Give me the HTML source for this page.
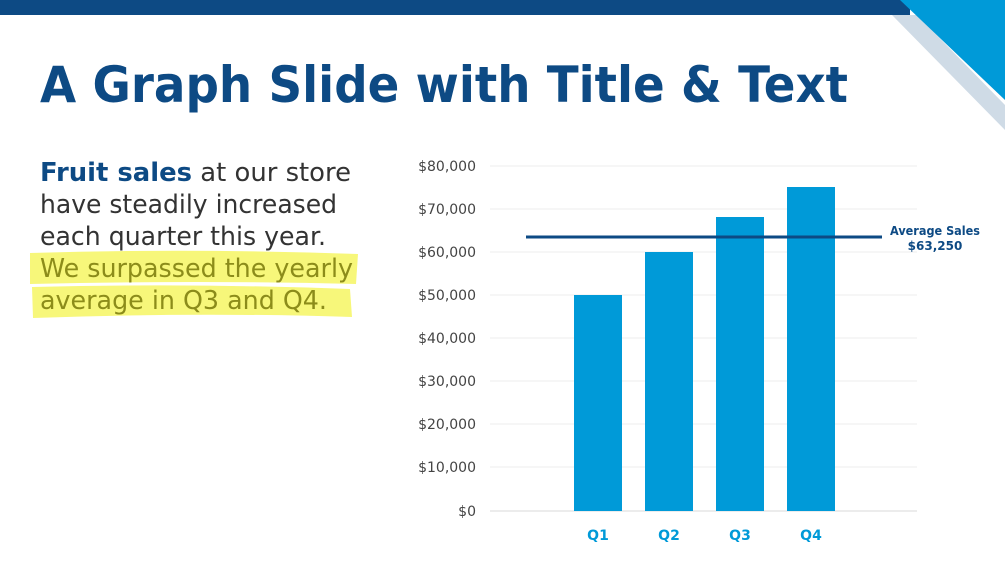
<!DOCTYPE html>
<html><head><meta charset="utf-8"><style>
html,body{margin:0;padding:0;background:#fff;width:1005px;height:565px;overflow:hidden}
svg{display:block}
</style></head><body>
<svg width="1005" height="565" viewBox="0 0 1005 565" xmlns="http://www.w3.org/2000/svg">
<rect x="0" y="0" width="1005" height="565" fill="#fff"/>
<rect x="0" y="0" width="910" height="15" fill="#0d4a84"/>
<polygon points="892,15 917,15 1005,105 1005,130" fill="#cfdbe6"/>
<polygon points="900,0 1005,0 1005,100" fill="#009ad8"/>
<text x="40" y="102" font-family="'DejaVu Sans',sans-serif" font-weight="bold" font-size="50" fill="#0d4a84" textLength="808" lengthAdjust="spacingAndGlyphs">A Graph Slide with Title &amp; Text</text>
<path d="M30,253 Q190,248 358,254 L356,284 Q200,280 30,284 Z" fill="#f7f77a"/>
<path d="M32,287 Q190,283 350,289 L352,317 Q200,312 33,318 Z" fill="#f7f77a"/>
<g font-family="'DejaVu Sans',sans-serif" font-size="26">
<text x="40" y="181" textLength="311" lengthAdjust="spacingAndGlyphs"><tspan fill="#0d4a84" font-weight="bold">Fruit sales</tspan><tspan fill="#333"> at our store</tspan></text>
<text x="40" y="213" fill="#333" textLength="297" lengthAdjust="spacingAndGlyphs">have steadily increased</text>
<text x="40" y="245" fill="#333" textLength="286" lengthAdjust="spacingAndGlyphs">each quarter this year.</text>
<text x="40" y="277" fill="#8c8c1a" textLength="313" lengthAdjust="spacingAndGlyphs">We surpassed the yearly</text>
<text x="40" y="309" fill="#8c8c1a" textLength="287" lengthAdjust="spacingAndGlyphs">average in Q3 and Q4.</text>
</g>
<g stroke="#eeeeee" stroke-width="1">
<line x1="490" y1="166" x2="917" y2="166"/>
<line x1="490" y1="209" x2="917" y2="209"/>
<line x1="490" y1="252" x2="917" y2="252"/>
<line x1="490" y1="295" x2="917" y2="295"/>
<line x1="490" y1="338" x2="917" y2="338"/>
<line x1="490" y1="381" x2="917" y2="381"/>
<line x1="490" y1="424" x2="917" y2="424"/>
<line x1="490" y1="467" x2="917" y2="467"/>
</g>
<line x1="490" y1="511" x2="917" y2="511" stroke="#d9d9d9" stroke-width="1"/>
<g font-family="'DejaVu Sans',sans-serif" font-size="14" fill="#444" text-anchor="end">
<text x="476" y="171">$80,000</text>
<text x="476" y="214">$70,000</text>
<text x="476" y="257">$60,000</text>
<text x="476" y="300">$50,000</text>
<text x="476" y="343">$40,000</text>
<text x="476" y="386">$30,000</text>
<text x="476" y="429">$20,000</text>
<text x="476" y="472">$10,000</text>
<text x="476" y="516">$0</text>
</g>
<g fill="#009ad8">
<rect x="574" y="295" width="48" height="216"/>
<rect x="645" y="252" width="48" height="259"/>
<rect x="716" y="217" width="48" height="294"/>
<rect x="787" y="187" width="48" height="324"/>
</g>
<line x1="526" y1="237" x2="882" y2="237" stroke="#0d4a84" stroke-width="3"/>
<g font-family="'DejaVu Sans',sans-serif" font-size="14" font-weight="bold" fill="#009ad8" text-anchor="middle">
<text x="598" y="540">Q1</text>
<text x="669" y="540">Q2</text>
<text x="740" y="540">Q3</text>
<text x="811" y="540">Q4</text>
</g>
<g font-family="'DejaVu Sans',sans-serif" font-size="12" font-weight="bold" fill="#0d4a84" text-anchor="middle">
<text x="935" y="235" textLength="90" lengthAdjust="spacingAndGlyphs">Average Sales</text>
<text x="935" y="250">$63,250</text>
</g>
</svg>
</body></html>
